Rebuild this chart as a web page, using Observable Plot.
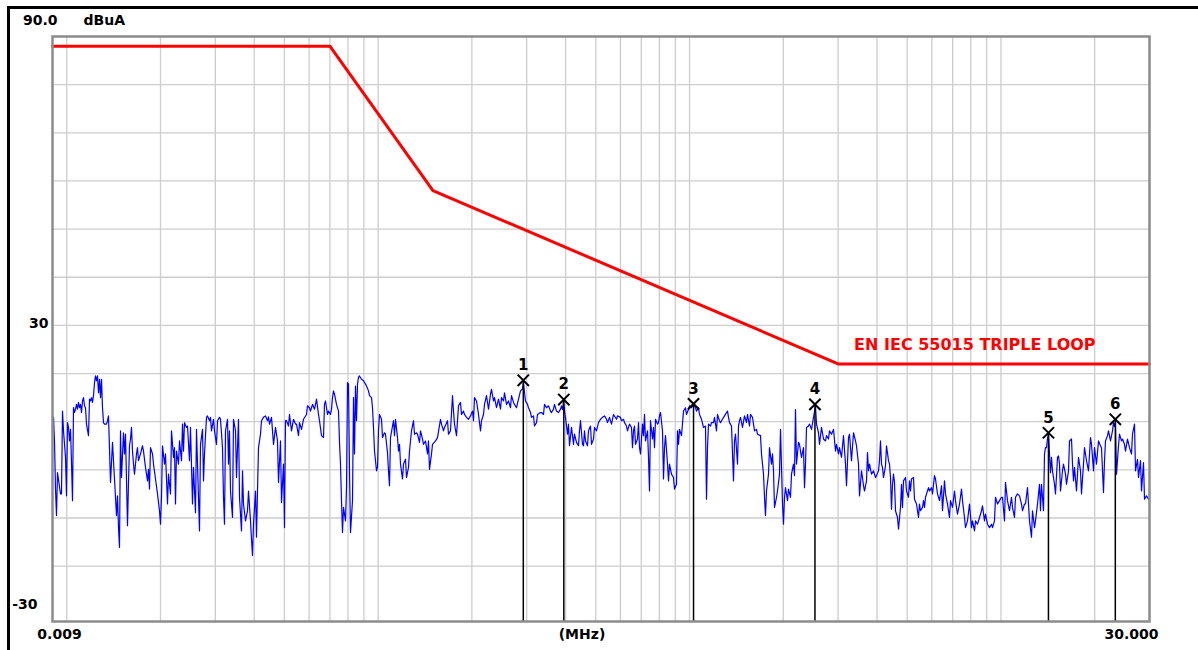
<!DOCTYPE html>
<html><head><meta charset="utf-8">
<script src="https://cdn.jsdelivr.net/npm/d3@7"></script>
<script src="https://cdn.jsdelivr.net/npm/@observablehq/plot@0.6"></script>
<style>
html,body{margin:0;padding:0;background:#fff;overflow:hidden;}
#wrap{position:relative;width:1198px;height:650px;}
#border{position:absolute;left:7px;top:6px;right:-10px;bottom:-10px;border-left:3px solid #000;border-top:3px solid #000;}
#chart{position:absolute;left:0;top:0;}
</style></head><body>
<div id="wrap"><div id="border"></div><div id="chart"></div></div>
<script>
// ---- data ----
const sweepStartMHz = 0.009, sweepStopMHz = 30, sweepPointCount = 1098;
const yUnit = "dBuA";
const yTickValues = [90, 30, -30];
const yTickLabels = ["90.0", "30", "-30"];
const xTickValues = [0.009, 30];
const xTickLabels = ["0.009", "30.000"];
const xUnit = "(MHz)";
const limitName = "EN IEC 55015 TRIPLE LOOP";
const limitFreq = [0.009, 0.07, 0.15, 3, 30];
const limitLevel = [88, 88, 58, 22, 22];
const markerId = ["1", "2", "3", "4", "5", "6"];
const markerFreq = [0.2925, 0.3947, 1.03, 2.528, 14.21, 23.3];
const markerLevel = [18.6, 14.6, 13.7, 13.6, 7.7, 10.5];
// [sweep point, level dBuA]
const traceReadings = [
[0,10.9],[1,10.9],[2,6.0],[3,-4.0],[4,-9.5],[5,-0.6],[8,-5.0],[9,-5.0],[10,12.2],[11,8.1],[13,2.6],[14,-5.4],[15,9.8],[16,8.8],[17,6.0],[18,8.4],[19,1.5],[20,-6.4],[21,12.9],[22,11.9],[23,12.6],[24,13.6],[25,12.6],[26,14.0],[27,12.9],[28,13.6],[29,11.9],[30,14.3],[31,15.0],[32,13.3],[33,12.9],[34,9.5],[36,7.1],[37,14.7],[38,14.3],[39,15.0],[40,14.0],[41,15.4],[42,18.1],[43,19.5],[44,18.5],[45,19.5],[46,16.0],[47,18.8],[48,15.0],[49,18.8],[50,12.9],[51,9.8],[52,9.5],[54,9.5],[55,10.2],[56,11.2],[57,4.3],[58,-2.6],[60,5.7],[61,1.9],[62,-1.9],[64,-9.5],[65,-5.4],[66,-12.0],[67,-16.1],[68,8.1],[69,-1.6],[71,7.7],[72,3.3],[73,7.4],[75,-11.6],[76,-2.6],[77,5.0],[78,6.4],[79,8.8],[80,3.9],[81,1.2],[82,-0.9],[84,3.3],[85,4.6],[86,1.9],[88,3.3],[90,5.0],[91,3.9],[93,0.5],[95,-2.3],[96,0.1],[97,-4.0],[98,4.6],[100,3.3],[101,1.2],[103,-1.9],[105,-5.0],[107,-8.5],[108,-11.3],[109,-5.7],[110,5.0],[112,1.2],[113,3.3],[115,-7.1],[116,-0.9],[118,-5.0],[119,8.1],[121,2.6],[122,4.6],[123,-7.1],[124,3.9],[126,1.2],[127,6.0],[129,1.9],[130,9.5],[131,3.9],[132,9.8],[134,8.8],[135,9.1],[137,1.9],[138,8.8],[140,-7.1],[141,0.5],[143,-8.9],[144,8.4],[145,1.2],[147,-12.7],[148,5.3],[150,8.4],[151,-2.3],[152,3.3],[154,10.9],[155,11.2],[157,10.2],[158,10.9],[159,8.1],[161,10.5],[162,8.1],[164,5.3],[165,10.2],[167,10.9],[168,10.5],[170,4.6],[171,-5.7],[172,-11.3],[173,8.1],[175,10.5],[176,1.2],[177,8.1],[178,-4.4],[180,-9.9],[181,10.5],[183,8.1],[184,-1.6],[186,10.5],[187,-5.7],[189,-12.7],[190,-0.2],[191,-7.1],[193,-10.6],[195,-8.5],[196,-4.4],[198,-10.6],[199,-14.4],[200,-17.8],[201,-11.3],[203,-4.4],[204,-14.0],[205,-4.4],[206,4.6],[208,7.4],[209,10.2],[211,10.9],[213,11.2],[215,10.2],[216,11.0],[217,9.5],[219,10.9],[221,5.3],[223,8.8],[224,7.4],[225,6.0],[226,-2.6],[228,6.0],[229,-6.8],[231,1.2],[232,-12.0],[233,10.2],[234,10.2],[236,9.1],[237,11.5],[239,8.1],[241,10.5],[243,9.5],[244,9.5],[246,7.1],[247,9.8],[249,8.4],[251,10.5],[254,11.5],[255,13.3],[257,12.9],[258,12.2],[260,13.6],[262,12.6],[263,13.6],[264,14.7],[266,11.5],[267,10.2],[269,7.1],[271,6.7],[272,13.6],[273,14.3],[275,11.5],[276,12.2],[278,11.5],
[279,12.6],[280,15.0],[281,16.4],[282,15.7],[284,13.6],[286,12.2],[287,5.7],[288,1.2],[289,-6.4],[290,-13.0],[291,-7.8],[293,-10.6],[294,-3.7],[295,18.1],[296,17.8],[297,-0.2],[298,-13.0],[300,-6.4],[301,15.0],[302,3.3],[303,17.4],[304,10.2],[305,17.8],[306,19.2],[307,19.5],[309,18.8],[311,18.5],[313,17.8],[314,17.4],[316,16.4],[317,15.4],[319,15.0],[320,12.9],[321,8.8],[322,3.9],[324,-0.2],[325,0.5],[326,8.1],[327,11.5],[329,10.5],[330,6.7],[332,7.7],[333,7.4],[335,3.6],[336,-0.2],[337,-3.3],[338,6.7],[340,9.1],[341,10.2],[342,7.1],[343,10.5],[345,6.7],[346,3.9],[347,5.3],[348,1.2],[350,-1.9],[351,1.2],[353,2.2],[354,-1.6],[356,0.5],[357,3.9],[358,6.0],[359,8.1],[361,10.2],[362,7.4],[364,7.7],[365,7.4],[367,5.7],[368,8.1],[370,6.4],[371,5.3],[373,6.0],[375,3.3],[376,6.0],[377,0.1],[379,3.3],[380,5.3],[383,6.0],[385,6.7],[388,10.5],[389,9.5],[391,8.1],[392,8.8],[395,10.2],[396,7.4],[398,8.1],[400,15.4],[401,12.2],[402,9.5],[404,7.1],[406,13.3],[408,14.0],[409,11.5],[411,12.2],[412,11.5],[414,10.9],[416,10.5],[418,11.2],[420,12.2],[421,10.2],[422,15.0],[424,14.3],[426,11.5],[428,8.1],[429,10.2],[431,11.5],[432,13.6],[434,15.4],[436,12.6],[438,15.7],[439,16.7],[441,14.3],[442,15.0],[444,12.9],[446,14.7],[448,12.6],[449,15.0],[451,14.3],[452,16.0],[454,13.6],[456,14.3],[458,12.9],[459,15.4],[461,14.0],[462,13.6],[464,12.9],[466,14.7],[468,16.4],[470,16.8],[471,18.2],[472,16.0],[473,14.3],[475,13.6],[476,12.9],[478,11.9],[479,10.9],[481,11.2],[482,9.1],[484,9.8],[485,11.5],[488,11.9],[489,11.9],[491,11.5],[492,13.6],[494,12.9],[496,13.3],[498,12.2],[499,11.9],[501,12.6],[502,13.6],[504,12.2],[506,11.9],[508,12.6],[509,13.3],[510,12.5],[511,14.3],[512,12.2],[513,10.9],[515,7.4],[516,9.5],[517,5.0],[519,8.8],[520,7.1],[521,5.3],[522,7.4],[524,5.7],[526,5.0],[527,8.1],[528,10.2],[530,5.3],[531,5.0],[532,8.1],[533,6.0],[535,5.0],[536,8.1],[538,9.1],[539,5.3],[541,6.4],[542,8.8],[544,8.1],[546,9.8],[548,10.5],[550,10.9],[552,11.2],
[554,10.5],[555,9.8],[557,10.9],[559,9.5],[561,11.5],[564,10.5],[565,11.2],[568,10.9],[569,10.2],[571,10.5],[572,9.8],[574,9.1],[575,8.1],[577,9.5],[579,8.8],[580,4.6],[581,8.1],[582,9.1],[583,5.3],[585,6.4],[586,9.8],[587,4.6],[588,3.3],[590,9.5],[591,7.1],[592,11.5],[593,6.0],[595,8.1],[596,2.6],[597,-4.4],[598,10.2],[600,6.4],[601,8.8],[602,4.6],[603,10.5],[605,9.5],[606,9.8],[607,11.2],[608,11.9],[610,8.1],[611,-1.9],[612,4.6],[613,7.1],[615,1.2],[616,-2.3],[617,1.2],[619,-0.9],[621,-1.6],[622,-4.0],[624,-3.0],[625,8.1],[626,5.3],[627,8.4],[629,7.1],[631,12.2],[633,12.9],[634,11.5],[636,12.6],[637,13.3],[639,12.9],[641,13.6],[643,12.9],[644,12.2],[646,12.9],[647,11.5],[649,10.5],[651,8.8],[653,9.1],[654,-6.1],[655,4.6],[656,9.5],[658,9.1],[659,9.8],[661,9.8],[662,10.9],[664,8.1],[665,11.5],[667,10.2],[668,9.8],[670,10.5],[672,11.2],[674,11.9],[675,12.2],[676,10.9],[677,9.8],[679,9.1],[681,-2.3],[682,6.0],[683,7.4],[685,1.2],[686,9.1],[687,10.2],[688,10.9],[690,8.8],[692,11.2],[694,9.8],[695,11.5],[697,9.1],[698,11.5],[700,10.9],[702,8.1],[704,8.4],[705,7.4],[708,7.1],[709,3.3],[711,-0.9],[712,-5.7],[713,-9.5],[714,-4.4],[716,-0.9],[717,4.6],[719,1.2],[720,3.3],[721,-0.2],[722,-7.8],[724,-5.7],[725,-4.4],[727,-0.9],[728,8.4],[730,-7.1],[731,-11.3],[732,-5.7],[733,-3.7],[735,-6.4],[736,-4.0],[738,-5.7],[739,-0.9],[741,1.2],[742,-1.2],[743,12.5],[744,1.2],[746,5.7],[747,5.3],[748,3.9],[749,2.6],[751,4.6],[752,-3.7],[753,1.2],[754,8.8],[756,9.1],[757,9.5],[759,8.4],[761,10.9],[763,13.2],[764,9.5],[766,7.7],[767,5.3],[769,8.8],[771,6.4],[773,6.0],[774,7.1],[776,6.4],[777,8.1],[779,7.4],[781,8.4],[783,3.9],[784,5.3],[786,3.3],[787,4.6],[789,2.6],[791,7.1],[793,1.2],[794,-3.3],[796,6.7],[797,7.4],[799,1.9],[801,7.7],[803,6.0],[804,5.0],[806,1.2],[807,-5.4],[809,-0.2],[810,-1.6],[811,-3.3],[812,-4.4],[814,-2.3],[815,3.6],[816,-0.2],[817,1.2],[819,-0.9],[821,-0.2],[823,-1.6],
[824,-1.2],[826,-0.2],[827,1.9],[828,6.0],[829,1.2],[830,0.5],[831,-1.6],[833,0.8],[834,5.0],[836,1.9],[837,1.2],[838,-1.6],[839,-8.2],[840,-3.0],[841,-0.9],[842,-2.6],[843,-8.5],[845,-9.9],[846,-12.3],[848,-7.8],[849,-3.0],[850,-7.8],[851,-2.3],[853,-1.6],[854,-4.4],[856,-5.7],[857,-2.3],[858,-4.4],[859,-1.9],[861,-1.6],[862,-6.1],[864,-7.1],[866,-9.9],[867,-7.1],[868,-8.5],[870,-7.8],[871,-6.4],[872,-7.8],[873,-5.7],[876,-3.7],[877,-4.4],[879,-3.7],[880,-5.0],[882,-1.2],[883,-1.9],[885,-5.0],[887,-6.4],[889,-3.3],[890,-8.5],[892,-2.3],[893,-5.0],[895,-7.1],[897,-9.9],[898,-6.4],[900,-7.8],[902,-4.4],[903,-6.4],[905,-9.2],[907,-7.1],[909,-4.0],[910,-6.4],[912,-9.9],[913,-12.0],[915,-10.6],[917,-7.1],[919,-12.0],[920,-10.6],[922,-12.7],[923,-10.6],[925,-11.3],[927,-9.9],[929,-8.5],[930,-7.5],[932,-10.6],[933,-9.2],[935,-11.3],[937,-12.0],[939,-11.3],[940,-12.0],[942,-10.6],[943,-5.7],[945,-7.1],[947,-6.4],[949,-5.7],[950,-5.7],[952,-10.6],[953,-2.6],[955,-6.4],[957,-8.5],[959,-5.7],[960,-7.8],[962,-9.9],[963,-5.7],[965,-5.0],[967,-5.4],[969,-7.1],[970,-8.5],[972,-7.1],[973,-7.1],[975,-3.7],[977,-10.6],[979,-14.0],[980,-8.5],[982,-12.0],[983,-10.6],[985,-7.1],[987,-3.0],[988,-8.5],[989,-3.0],[991,-8.5],[992,3.3],[993,4.6],[994,4.6],[995,6.5],[996,7.6],[997,3.3],[998,-0.6],[999,2.6],[1000,-0.2],[1002,-3.0],[1003,-5.0],[1005,2.6],[1006,2.9],[1007,1.2],[1008,-4.4],[1010,-0.2],[1011,1.2],[1013,-0.9],[1014,-3.0],[1016,-0.2],[1017,6.0],[1019,6.4],[1020,1.2],[1021,-2.3],[1022,0.5],[1024,-4.4],[1026,2.6],[1028,-0.2],[1029,-5.0],[1031,1.2],[1032,4.6],[1034,1.9],[1036,-0.2],[1038,6.7],[1039,5.3],[1041,-0.2],[1042,4.6],[1044,1.2],[1046,6.0],[1048,5.0],[1049,4.6],[1051,-4.7],[1052,1.9],[1053,6.0],[1055,7.1],[1056,8.1],[1058,6.0],[1060,8.1],[1061,9.8],[1062,9.0],[1063,10.0],[1064,-0.9],[1066,5.0],[1067,7.4],[1069,6.0],[1070,6.4],[1072,5.3],[1073,3.9],[1075,6.4],[1077,4.6],[1079,3.3],[1080,7.4],[1082,9.5],[1083,-0.2],[1085,2.2],[1086,-1.6],[1088,1.9],[1089,-4.4],[1091,1.5],[1092,-6.1],[1094,-5.4],[1096,-6.1],[1097,-6.1]
];

// ---- build tables ----
const yMin = -31.5, yMax = 90;
const pointFreq = i => sweepStartMHz * Math.pow(sweepStopMHz / sweepStartMHz, i / (sweepPointCount - 1));
const trace = traceReadings.slice().sort((a, b) => a[0] - b[0]).map(([i, v]) => ({f: pointFreq(i), v}));
const limit = limitFreq.map((f, i) => ({f, v: limitLevel[i]}));
const markers = markerId.map((id, i) => ({id, f: markerFreq[i], v: markerLevel[i]}));
const xGrid = d3.scaleLog().domain([sweepStartMHz, sweepStopMHz]).ticks();
const yGrid = d3.range(-20, 81, 10);
const font = {fontFamily: "DejaVu Sans, Verdana, sans-serif", fontWeight: "bold"};

const chart = Plot.plot({
  width: 1198, height: 650,
  marginLeft: 52, marginRight: 49, marginTop: 36, marginBottom: 29,
  x: {type: "log", domain: [sweepStartMHz, sweepStopMHz], axis: null},
  y: {domain: [yMin, yMax], axis: null},
  style: {background: "transparent", overflow: "visible"},
  marks: [
    Plot.ruleX(xGrid, {stroke: "#cdcdcd", strokeWidth: 1.3}),
    Plot.ruleY(yGrid, {stroke: "#cdcdcd", strokeWidth: 1.3}),
    Plot.line(limit, {x: "f", y: "v", stroke: "#ff0000", strokeWidth: 3}),
    Plot.text([limitName], {x: () => limitFreq[3], y: () => limitLevel[3], text: d => d, textAnchor: "start", dx: 16, dy: -19, fill: "#ff0000", fontSize: 16, ...font}),
    Plot.line(trace, {x: "f", y: "v", stroke: "#0000ff", strokeWidth: 1.2}),
    Plot.ruleX(markers, {x: "f", y1: "v", y2: yMin, stroke: "#000", strokeWidth: 1.5}),
    Plot.dot(markers, {x: "f", y: "v", symbol: "times", r: 5.2, stroke: "#000", strokeWidth: 2}),
    Plot.text(markers, {x: "f", y: "v", text: "id", dy: -15, fontSize: 15, fill: "#000", ...font}),
    Plot.frame({stroke: "#8c8c8c", strokeWidth: 2.5}),
    // y labels
    Plot.text([0], {x: () => sweepStartMHz, y: () => yTickValues[0], text: () => yTickLabels[0], textAnchor: "end", dx: 5, dy: -16, fontSize: 14, fill: "#000", ...font}),
    Plot.text([0], {x: () => sweepStartMHz, y: () => yTickValues[0], text: () => yUnit, textAnchor: "start", dx: 31, dy: -16, fontSize: 14, fill: "#000", ...font}),
    Plot.text([0], {x: () => sweepStartMHz, y: () => yTickValues[1], text: () => yTickLabels[1], textAnchor: "end", dx: -4, dy: -2, fontSize: 14, fill: "#000", ...font}),
    Plot.text([0], {x: () => sweepStartMHz, y: () => yTickValues[2], text: () => yTickLabels[2], textAnchor: "end", dx: -15, dy: -10, fontSize: 14, fill: "#000", ...font}),
    // x labels
    Plot.text([0], {x: () => xTickValues[0], y: () => yMin, text: () => xTickLabels[0], textAnchor: "middle", dx: 7, dy: 13, fontSize: 14, fill: "#000", ...font}),
    Plot.text([0], {x: () => xTickValues[1], y: () => yMin, text: () => xTickLabels[1], textAnchor: "end", dx: 9, dy: 13, fontSize: 14, fill: "#000", ...font}),
    Plot.text([xUnit], {frameAnchor: "bottom", text: d => d, dx: -19, dy: 13, lineAnchor: "middle", fontSize: 14, fill: "#000", ...font})
  ]
});
document.getElementById("chart").appendChild(chart);
</script>
</body></html>
